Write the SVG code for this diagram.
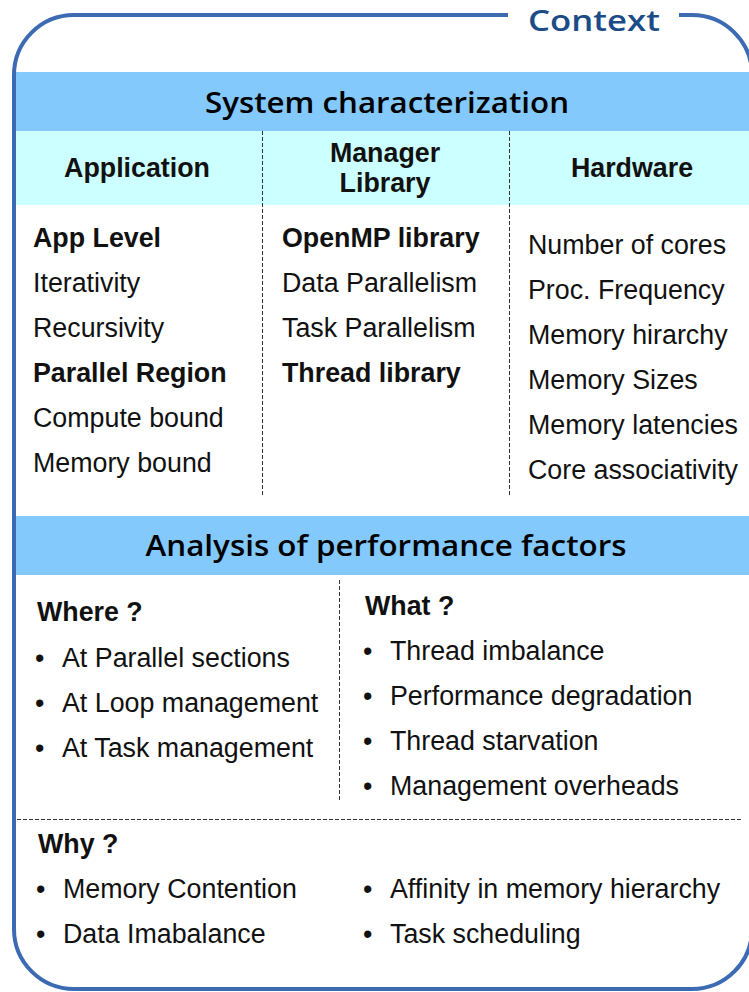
<svg xmlns="http://www.w3.org/2000/svg" width="749" height="992" viewBox="0 0 749 992">
<style>
.band{fill:#84c9fb}
.head{fill:#ccffff}
.title{font-family:"Open Sans","Noto Sans",sans-serif;font-size:28px;fill:#000;text-anchor:middle;font-weight:600}
.t{font-family:"Liberation Sans",Arial,sans-serif;font-size:26.8px;fill:#111}
.b{font-weight:bold}
.c{text-anchor:middle}
.dash{stroke:#333;stroke-width:1;stroke-dasharray:4 2;fill:none}
</style>
<rect width="749" height="992" fill="#fff"/>
<g id="system-characterization">
<rect class="band" x="16" y="72" width="733" height="59"/>
<rect class="head" x="16" y="131" width="733" height="74"/>
<text class="title" x="387" y="113" textLength="364" lengthAdjust="spacingAndGlyphs">System characterization</text>
</g>
<g id="application">
<text class="t b c" x="137" y="177">Application</text>
<text class="t b" x="33" y="247">App Level</text>
<text class="t" x="33" y="292">Iterativity</text>
<text class="t" x="33" y="337">Recursivity</text>
<text class="t b" x="33" y="382">Parallel Region</text>
<text class="t" x="33" y="427">Compute bound</text>
<text class="t" x="33" y="472">Memory bound</text>
</g>
<g id="manager-library">
<text class="t b c" x="385" y="162">Manager</text>
<text class="t b c" x="385" y="192">Library</text>
<text class="t b" x="282" y="247">OpenMP library</text>
<text class="t" x="282" y="292">Data Parallelism</text>
<text class="t" x="282" y="337">Task Parallelism</text>
<text class="t b" x="282" y="382">Thread library</text>
</g>
<g id="hardware">
<text class="t b c" x="632" y="177">Hardware</text>
<text class="t" x="528" y="254">Number of cores</text>
<text class="t" x="528" y="299">Proc. Frequency</text>
<text class="t" x="528" y="344">Memory hirarchy</text>
<text class="t" x="528" y="389">Memory Sizes</text>
<text class="t" x="528" y="434">Memory latencies</text>
<text class="t" x="528" y="479">Core associativity</text>
</g>
<g id="analysis">
<rect class="band" x="16" y="516" width="733" height="59"/>
<text class="title" x="386" y="556" textLength="481" lengthAdjust="spacingAndGlyphs">Analysis of performance factors</text>
</g>
<g id="where">
<text class="t b" x="37" y="621">Where ?</text>
<text class="t" x="35" y="667">•</text><text class="t" x="62" y="667">At Parallel sections</text>
<text class="t" x="35" y="712">•</text><text class="t" x="62" y="712">At Loop management</text>
<text class="t" x="35" y="757">•</text><text class="t" x="62" y="757">At Task management</text>
</g>
<g id="what">
<text class="t b" x="365" y="615">What ?</text>
<text class="t" x="363" y="660">•</text><text class="t" x="390" y="660">Thread imbalance</text>
<text class="t" x="363" y="705">•</text><text class="t" x="390" y="705">Performance degradation</text>
<text class="t" x="363" y="750">•</text><text class="t" x="390" y="750">Thread starvation</text>
<text class="t" x="363" y="795">•</text><text class="t" x="390" y="795">Management overheads</text>
</g>
<g id="why">
<text class="t b" x="38" y="853">Why ?</text>
<text class="t" x="36" y="898">•</text><text class="t" x="63" y="898">Memory Contention</text>
<text class="t" x="36" y="943">•</text><text class="t" x="63" y="943">Data Imabalance</text>
<text class="t" x="363" y="898">•</text><text class="t" x="390" y="898">Affinity in memory hierarchy</text>
<text class="t" x="363" y="943">•</text><text class="t" x="390" y="943">Task scheduling</text>
</g>
<g id="connectors">
<line class="dash" x1="262.5" y1="131" x2="262.5" y2="497"/>
<line class="dash" x1="509.5" y1="131" x2="509.5" y2="497"/>
<line class="dash" x1="339.5" y1="580" x2="339.5" y2="802"/>
<line class="dash" x1="17" y1="819.5" x2="742" y2="819.5"/>
</g>
<g id="context">
<path d="M508,15 H74 A60,60 0 0 0 14,75 V929 A60,60 0 0 0 74,989 H692 A60,60 0 0 0 752,929 V75 A60,60 0 0 0 692,15 H679" fill="none" stroke="#3c6bb4" stroke-width="4"/>
<text x="528" y="31" font-family="Open Sans,Noto Sans,sans-serif" font-size="29" font-weight="600" fill="#1b4c88" textLength="132" lengthAdjust="spacingAndGlyphs">Context</text>
</g>
</svg>
